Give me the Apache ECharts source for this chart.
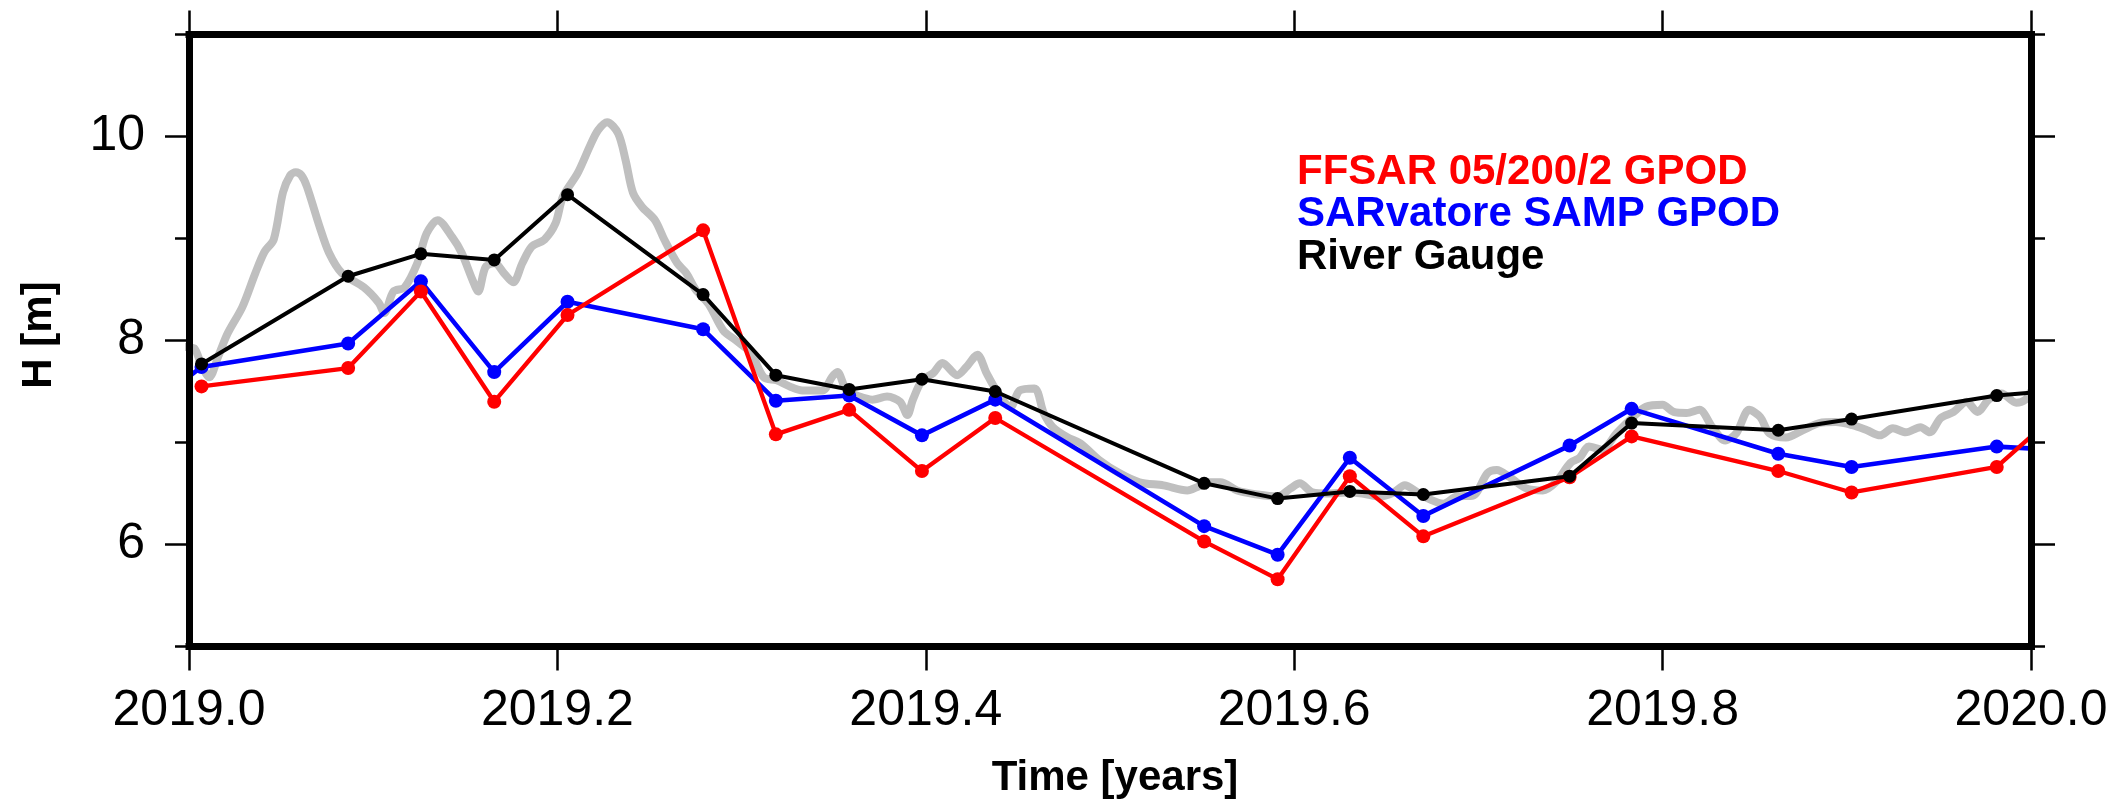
<!DOCTYPE html>
<html>
<head>
<meta charset="utf-8">
<title>Water level time series</title>
<script src="https://cdn.jsdelivr.net/npm/echarts@6/dist/echarts.min.js"></script>
<style>
  html, body { margin: 0; padding: 0; background: #ffffff; }
  #chart { width: 2119px; height: 803px; }
</style>
</head>
<body>
<div id="chart"></div>
<script>
// Overpass epochs (decimal years) shared by both altimetry products and the gauge samples
const passTimes = [2018.9672, 2019.0068, 2019.0864, 2019.1259, 2019.1657, 2019.2055, 2019.2791,
  2019.3186, 2019.3584, 2019.3979, 2019.4377, 2019.5511, 2019.5910, 2019.6302, 2019.6701,
  2019.7495, 2019.7832, 2019.8628, 2019.9026, 2019.9814, 2020.0212];

// Water heights [m] at each overpass
const ffsarHeights = [null, 7.55, 7.73, 8.48, 7.40, 8.25, 9.08, 7.08, 7.32, 6.72, 7.24,
  6.03, 5.66, 6.67, 6.08, 6.66, 7.06, 6.72, 6.51, 6.76, 7.40];
const samposHeights = [7.20, 7.74, 7.97, 8.58, 7.69, 8.38, 8.11, 7.41, 7.46, 7.07, 7.42,
  6.18, 5.90, 6.85, 6.28, 6.97, 7.33, 6.89, 6.76, 6.96, 6.92];
const gaugeAtPass = [null, 7.77, 8.63, 8.85, 8.79, 9.43, 8.45, 7.66, 7.52, 7.62, 7.50,
  6.60, 6.45, 6.52, 6.49, 6.67, 7.19, 7.12, 7.23, 7.46, 7.52];

// Continuous river gauge record
const gaugeTimes = [2018.995, 2019.000, 2019.003, 2019.007, 2019.011, 2019.016, 2019.021, 2019.029,
  2019.036, 2019.041, 2019.046, 2019.051, 2019.055, 2019.058, 2019.061, 2019.064, 2019.071, 2019.076,
  2019.083, 2019.095, 2019.103, 2019.106, 2019.111, 2019.117, 2019.124, 2019.129, 2019.135, 2019.143,
  2019.148, 2019.154, 2019.157, 2019.161, 2019.166, 2019.171, 2019.176, 2019.181, 2019.186, 2019.193,
  2019.199, 2019.203, 2019.211, 2019.218, 2019.222, 2019.227, 2019.233, 2019.237, 2019.241, 2019.246,
  2019.253, 2019.258, 2019.265, 2019.270, 2019.275, 2019.282, 2019.290, 2019.297, 2019.305, 2019.312,
  2019.319, 2019.326, 2019.333, 2019.344, 2019.349, 2019.352, 2019.357, 2019.364, 2019.371, 2019.379,
  2019.386, 2019.390, 2019.393, 2019.398, 2019.404, 2019.409, 2019.417, 2019.422, 2019.428, 2019.433,
  2019.439, 2019.446, 2019.451, 2019.459, 2019.464, 2019.469, 2019.477, 2019.484, 2019.494, 2019.505,
  2019.516, 2019.529, 2019.542, 2019.547, 2019.553, 2019.560, 2019.569, 2019.580, 2019.591, 2019.598,
  2019.603, 2019.610, 2019.618, 2019.629, 2019.637, 2019.646, 2019.654, 2019.660, 2019.667, 2019.674,
  2019.681, 2019.688, 2019.697, 2019.705, 2019.710, 2019.717, 2019.726, 2019.735, 2019.742, 2019.750,
  2019.755, 2019.760, 2019.767, 2019.775, 2019.784, 2019.791, 2019.800, 2019.806, 2019.813, 2019.820,
  2019.827, 2019.834, 2019.840, 2019.847, 2019.853, 2019.858, 2019.867, 2019.876, 2019.885, 2019.894,
  2019.903, 2019.911, 2019.918, 2019.925, 2019.932, 2019.940, 2019.945, 2019.951, 2019.958, 2019.965,
  2019.971, 2019.977, 2019.984, 2019.992, 2019.997, 2020.000, 2020.004];
const gaugeLevels = [7.95, 7.93, 7.92, 7.75, 7.64, 7.85, 8.07, 8.33,
  8.66, 8.87, 8.99, 9.45, 9.62, 9.65, 9.62, 9.51, 9.11, 8.86,
  8.66, 8.52, 8.37, 8.27, 8.48, 8.52, 8.76, 9.05, 9.18, 9.01,
  8.86, 8.59, 8.48, 8.72, 8.76, 8.66, 8.57, 8.76, 8.92, 8.99,
  9.15, 9.41, 9.64, 9.92, 10.06, 10.14, 10.03, 9.77, 9.45, 9.31,
  9.18, 8.99, 8.76, 8.66, 8.50, 8.36, 8.10, 8.00, 7.88, 7.64,
  7.61, 7.55, 7.51, 7.51, 7.64, 7.69, 7.51, 7.45, 7.42, 7.45,
  7.40, 7.27, 7.42, 7.61, 7.68, 7.78, 7.66, 7.74, 7.86, 7.68,
  7.49, 7.35, 7.51, 7.53, 7.29, 7.15, 7.05, 6.99, 6.83, 6.70,
  6.61, 6.58, 6.53, 6.56, 6.61, 6.61, 6.53, 6.49, 6.47, 6.55,
  6.60, 6.51, 6.50, 6.51, 6.50, 6.47, 6.51, 6.58, 6.51, 6.44,
  6.40, 6.47, 6.48, 6.70, 6.73, 6.66, 6.55, 6.53, 6.61, 6.80,
  6.85, 6.96, 6.93, 7.09, 7.25, 7.35, 7.37, 7.30, 7.29, 7.32,
  7.15, 7.02, 7.09, 7.32, 7.25, 7.09, 7.05, 7.12, 7.19, 7.20,
  7.17, 7.12, 7.07, 7.14, 7.10, 7.15, 7.10, 7.24, 7.30, 7.40,
  7.30, 7.42, 7.48, 7.39, 7.42, 7.50, 7.55];

// Axis tick settings
const xTickStart = 2019.0, xTickEnd = 2020.0, xTickStep = 0.2;
const yMin = 5, yMax = 11;
const yLabelValues = [6, 8, 10];

// Legend entries
const legendEntries = [
  { name: 'FFSAR 05/200/2 GPOD', color: '#ff0000' },
  { name: 'SARvatore SAMP GPOD', color: '#0000ff' },
  { name: 'River Gauge', color: '#000000' }
];

const zip = (xs, ys) => xs.map((x, i) => [x, ys[i]]);

const FONT = '"Liberation Sans", Arial, Helvetica, sans-serif';
const frameLine = { lineStyle: { color: '#000', width: 7, cap: 'square' } };
const majorTick = { show: true, inside: false, length: 24, lineStyle: { color: '#000', width: 2.5 } };
const minorTick = { show: true, inside: false, length: 14, lineStyle: { color: '#000', width: 2.5 } };

const xBase = {
  type: 'value', min: xTickStart, max: xTickEnd, interval: xTickStep,
  splitLine: { show: false }, z: 10
};
const yBase = {
  type: 'value', min: yMin, max: yMax, interval: 1,
  splitLine: { show: false }, z: 10
};

const chart = echarts.init(document.getElementById('chart'), null, { renderer: 'canvas' });

chart.setOption({
  animation: false,
  backgroundColor: '#ffffff',
  grid: { left: 189, right: 88, top: 34.5, bottom: 156.5, containLabel: false },
  xAxis: [
    Object.assign({}, xBase, {
      position: 'bottom',
      axisLine: frameLine,
      axisTick: majorTick,
      axisLabel: {
        color: '#000', fontSize: 50, fontFamily: FONT, margin: 40,
        formatter: v => v.toFixed(1)
      }
    }),
    Object.assign({}, xBase, {
      position: 'top',
      axisLine: frameLine,
      axisTick: majorTick,
      axisLabel: { show: false }
    })
  ],
  yAxis: [
    Object.assign({}, yBase, {
      position: 'left',
      axisLine: frameLine,
      axisTick: minorTick,
      axisLabel: { show: false }
    }),
    Object.assign({}, yBase, {
      position: 'left',
      axisLine: { show: false },
      axisTick: Object.assign({}, majorTick, { customValues: yLabelValues }),
      axisLabel: {
        color: '#000', fontSize: 50, fontFamily: FONT, margin: 44,
        customValues: yLabelValues
      }
    }),
    Object.assign({}, yBase, {
      position: 'right',
      axisLine: frameLine,
      axisTick: minorTick,
      axisLabel: { show: false }
    }),
    Object.assign({}, yBase, {
      position: 'right',
      axisLine: { show: false },
      axisTick: Object.assign({}, majorTick, { customValues: yLabelValues }),
      axisLabel: { show: false }
    })
  ],
  series: [
    {
      name: 'River Gauge (daily)', type: 'line', xAxisIndex: 0, yAxisIndex: 0,
      data: zip(gaugeTimes, gaugeLevels),
      showSymbol: false, smooth: 0.3, clip: true, z: 1,
      lineStyle: { color: '#bfbfbf', width: 8, cap: 'round', join: 'round' }
    },
    {
      name: legendEntries[1].name, type: 'line', xAxisIndex: 0, yAxisIndex: 0,
      data: zip(passTimes, samposHeights),
      symbol: 'circle', symbolSize: 14, clip: true, z: 2,
      itemStyle: { color: legendEntries[1].color },
      lineStyle: { color: legendEntries[1].color, width: 4.6, join: 'round' }
    },
    {
      name: legendEntries[0].name, type: 'line', xAxisIndex: 0, yAxisIndex: 0,
      data: zip(passTimes, ffsarHeights),
      symbol: 'circle', symbolSize: 14, clip: true, z: 3,
      itemStyle: { color: legendEntries[0].color },
      lineStyle: { color: legendEntries[0].color, width: 4.3, join: 'round' }
    },
    {
      name: legendEntries[2].name, type: 'line', xAxisIndex: 0, yAxisIndex: 0,
      data: zip(passTimes, gaugeAtPass),
      symbol: 'circle', symbolSize: 13, clip: true, z: 4,
      itemStyle: { color: legendEntries[2].color },
      lineStyle: { color: legendEntries[2].color, width: 4, join: 'round' }
    }
  ],
  graphic: [
    {
      type: 'text', x: 1115, y: 778, z: 20,
      style: { text: 'Time [years]', fill: '#000', font: 'bold 42px ' + FONT, align: 'center', verticalAlign: 'middle' }
    },
    {
      type: 'text', x: 39, y: 335, rotation: Math.PI / 2, z: 20,
      style: { text: 'H [m]', fill: '#000', font: 'bold 42px ' + FONT, align: 'center', verticalAlign: 'middle' }
    }
  ].concat(legendEntries.map((entry, i) => ({
    type: 'text', x: 1297, y: 172 + i * 42.5, z: 20,
    style: { text: entry.name, fill: entry.color, font: 'bold 42px ' + FONT, align: 'left', verticalAlign: 'middle' }
  })))
});
</script>
</body>
</html>
